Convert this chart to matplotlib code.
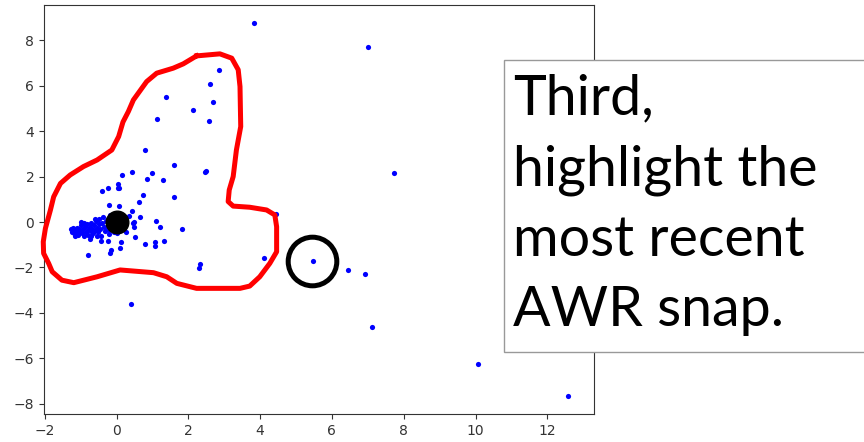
import numpy as np
import matplotlib
matplotlib.use("Agg")
import matplotlib.pyplot as plt
from matplotlib.patches import Rectangle

# scatter points (blue dots)
spread_x = [2.85, 2.60, 2.68, 1.39, 2.13, 2.57, 1.14, 0.78, 1.60, 2.49, 2.47,
            0.44, 0.16, 0.99, 0.86, 1.30, -0.40, -0.24, 0.03, 0.04, 0.08,
            0.74, 1.60, 0.62, -0.20, 0.07, 0.44, 0.35, 0.66, 1.11, 1.20, 1.83,
            0.50, 0.45, 0.49, 4.44, 0.51, 0.78, 1.08, 1.08, 1.33, 0.13, 0.10,
            -0.15, -0.19, -0.24, -0.43, -0.74, -0.80, 2.33, 2.31, 4.10, 0.26,
            0.01, -0.22, 5.47, 6.45, 6.91, 7.13, 10.06, 12.58, 7.00, 7.74,
            3.83, 0.41]
spread_y = [6.70, 6.07, 5.27, 5.52, 4.93, 4.45, 4.54, 3.19, 2.50, 2.25, 2.18,
            2.20, 2.06, 2.16, 1.91, 1.86, 1.38, 1.48, 1.67, 1.48, 1.48,
            1.18, 1.10, 0.90, 0.75, 0.70, 0.50, 0.28, 0.21, 0.06, -0.23, -0.32,
            0.01, -0.06, -0.21, 0.37, -0.67, -0.95, -0.88, -1.06, -0.82, -0.87, -1.16,
            -1.23, -1.38, -0.84, -0.82, -0.76, -1.44, -1.84, -2.04, -1.60, -0.43,
            -0.50, -0.53, -1.72, -2.11, -2.28, -4.61, -6.27, -7.65, 7.68, 2.17,
            8.75, -3.60]

# dense group left of the origin
cluster_x = [-1.28, -1.25, -1.22, -1.20, -1.18, -1.15, -1.12, -1.10, -1.08, -1.05,
             -1.02, -1.00, -0.98, -0.95, -0.93, -0.90, -0.88, -0.85, -0.83, -0.80,
             -0.78, -0.75, -0.72, -0.70, -0.68, -0.65, -0.62, -0.60, -0.58, -0.55,
             -0.52, -0.50, -0.48, -0.45, -0.42, -0.40, -0.38, -0.35, -0.32, -0.30,
             -0.28, -0.25, -0.22, -0.20, -0.18, -0.15, -0.12, -0.10, -0.08, -0.05,
             -0.02, 0.05, 0.10, 0.15, 0.20, -0.90, -1.00, -0.60, -0.70, -1.15, -0.55]
cluster_y = [-0.32, -0.45, -0.38, -0.28, -0.50, -0.35, -0.42, -0.25, -0.55, -0.30,
             -0.45, -0.38, -0.15, -0.50, -0.30, -0.62, -0.22, -0.42, -0.10, -0.35,
             -0.55, -0.20, -0.40, -0.05, -0.30, -0.50, -0.15, -0.35, 0.05, -0.25,
             -0.45, -0.10, 0.12, -0.30, -0.60, -0.05, 0.20, -0.20, -0.40, 0.05,
             -0.25, 0.15, -0.10, -0.35, 0.30, 0.00, -0.20, 0.10, -0.45, 0.25,
             -0.15, 0.35, -0.30, 0.15, -0.10, -0.05, 0.00, 0.15, -0.60, -0.60, -0.62]

# current snapshot and the most recent one
current = (0.0, 0.0)
recent = (5.45, -1.70)

# freehand red outline
outline_x = [2.23, 2.88, 3.21, 3.39, 3.44, 3.46, 3.34, 3.25, 3.14, 3.11, 3.25, 3.71,
             4.18, 4.41, 4.46, 4.46, 4.27, 3.99, 3.71, 3.44, 2.23, 1.68, 1.40, 1.03,
             0.10, -0.54, -1.19, -1.52, -1.79, -1.89, -2.03, -2.04, -1.98, -1.84,
             -1.75, -1.56, -1.29, -0.92, -0.54, -0.13, 0.06, 0.18, 0.33, 0.47, 0.84,
             1.12, 1.58, 1.86, 2.23]
outline_y = [7.31, 7.40, 7.21, 6.70, 5.96, 4.20, 3.17, 2.00, 1.41, 0.90, 0.70, 0.65,
             0.53, 0.31, -0.21, -1.31, -1.82, -2.41, -2.82, -2.92, -2.92, -2.70, -2.41,
             -2.23, -2.11, -2.41, -2.67, -2.56, -2.19, -1.82, -1.38, -0.87, -0.28, 0.53,
             1.11, 1.70, 2.07, 2.44, 2.73, 3.17, 3.76, 4.40, 4.86, 5.37, 6.18, 6.55,
             6.77, 6.96, 7.31]

note = "Third,\nhighlight the\nmost recent\nAWR snap."

fig = plt.figure(figsize=(8.64, 4.42), dpi=100)
ax = fig.add_axes([0.0509, 0.0633, 0.6366, 0.9254])

ax.scatter(spread_x, spread_y, s=14, color='blue', linewidths=0, zorder=2)
ax.scatter(cluster_x, cluster_y, s=14, color='blue', linewidths=0, zorder=2)
ax.scatter([current[0]], [current[1]], s=265, color='black', zorder=3)
ax.plot(outline_x, outline_y, color='red', lw=3.6, clip_on=False, zorder=4,
        solid_joinstyle='round')
ax.plot([recent[0]], [recent[1]], marker='o', ms=35, mfc='none', mec='black',
        mew=3.6, zorder=4)

ax.set_xlim(-2.02, 13.3)
ax.set_ylim(-8.45, 9.55)
ax.set_xticks(np.arange(-2, 13, 2))
ax.set_yticks(np.arange(-8, 9, 2))
ax.tick_params(labelsize=10, colors='#333333')
for sp in ax.spines.values():
    sp.set_color('#333333')

#text box pasted on the right, runs off the edge
box = Rectangle((0.583, 0.2036), 0.5, 0.6604, transform=fig.transFigure,
                facecolor='white', edgecolor='#999999', lw=1, zorder=10)
fig.add_artist(box)
fig.text(0.594, 0.833, note, fontsize=40, family='Lato',
         va='top', ha='left', linespacing=1.47, zorder=11)

plt.savefig('out.png')
